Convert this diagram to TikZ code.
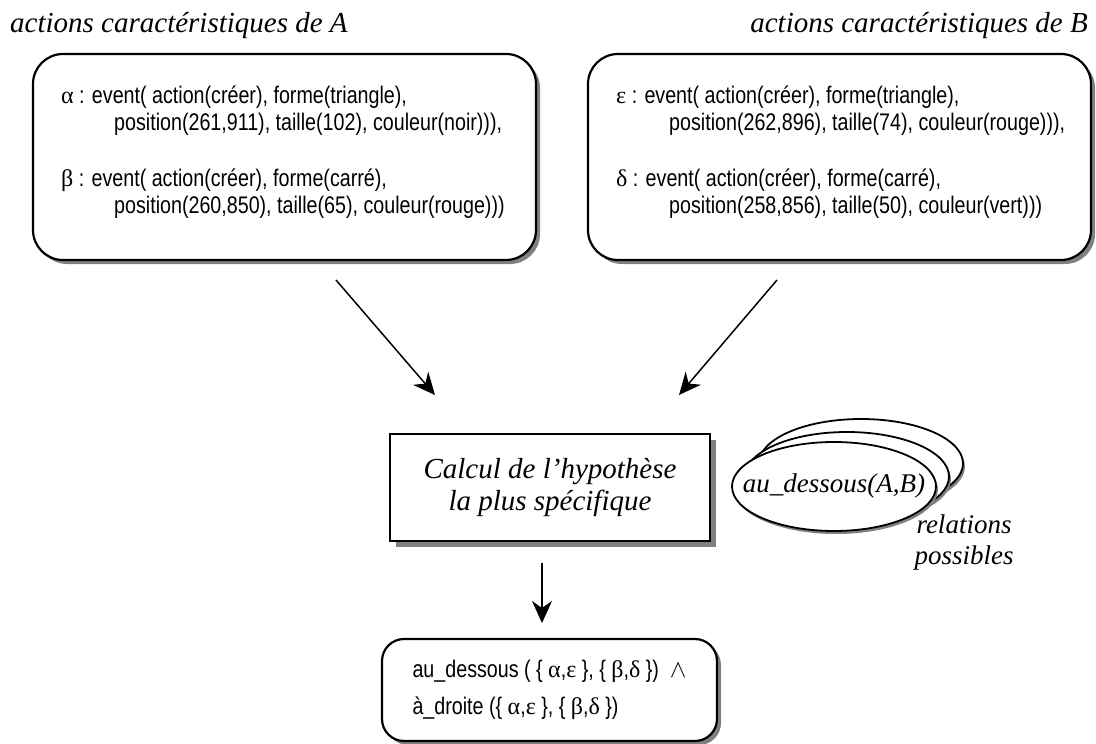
\documentclass[tikz,border=0pt]{standalone}
\usepackage{fontspec}
\setmainfont{Liberation Serif}
\newfontfamily\evfont[FakeStretch=0.82]{Liberation Sans}
\newfontfamily\greekfont{Liberation Serif}
\usetikzlibrary{arrows.meta,shapes.geometric,shadows}
\definecolor{shadowgray}{RGB}{128,128,128}
\newcommand\greekch[1]{{\greekfont #1}}

\begin{document}
\begin{tikzpicture}[x=1pt,y=-1pt,
  title/.style={inner sep=0pt, font=\fontsize{29pt}{32pt}\selectfont\itshape},
  evbox/.style={draw, line width=2.2pt, rounded corners=30pt, fill=white,
    minimum width=503pt, minimum height=206pt,
    general shadow={fill=shadowgray, shadow xshift=4pt, shadow yshift=-4pt}},
  evtext/.style={anchor=base west, inner sep=0pt, align=left,
    font=\evfont\fontsize{24pt}{26.5pt}\selectfont},
  calcbox/.style={draw, line width=2.2pt, fill=white, align=center,
    minimum width=320pt, minimum height=107pt,
    font=\fontsize{29pt}{32pt}\selectfont\itshape,
    general shadow={fill=shadowgray, shadow xshift=6pt, shadow yshift=-6pt}},
  relell/.style={ellipse, draw, line width=1.8pt, fill=white, inner sep=0pt,
    minimum width=204pt, minimum height=89pt,
    general shadow={fill=shadowgray, shadow xshift=2pt, shadow yshift=-3pt}},
  relname/.style={inner sep=0pt, font=\fontsize{27pt}{30pt}\selectfont\itshape},
  reltext/.style={align=center, inner sep=0pt,
    font=\fontsize{27pt}{31pt}\selectfont\itshape},
  resbox/.style={draw, line width=2.2pt, rounded corners=22pt, fill=white,
    minimum width=335pt, minimum height=102pt, align=left,
    font=\evfont\fontsize{24pt}{37pt}\selectfont,
    general shadow={fill=shadowgray, shadow xshift=4pt, shadow yshift=-4pt}},
  flow/.style={line width=1.5pt, -{Stealth[length=22pt,width=20pt,inset=7pt]}}]

\useasboundingbox (0,0) rectangle (1096,744);

% titres
\node[title, anchor=base west] (titleA) at (10,32) {actions caractéristiques de A};
\node[title, anchor=base east] (titleB) at (1088,32) {actions caractéristiques de B};

% actions de A et de B
\node[evbox] (boxA) at (284.5,157) {};
\node[evbox] (boxB) at (839.5,157) {};
\node[evtext] (evA) at (61,213) {\greekch{α} : event( action(créer), forme(triangle),\\
\hspace*{53pt}position(261,911), taille(102), couleur(noir))),\\[30pt]
\greekch{β} : event( action(créer), forme(carré),\\
\hspace*{53pt}position(260,850), taille(65), couleur(rouge)))};
\node[evtext] (evB) at (616,213) {\greekch{ε} : event( action(créer), forme(triangle),\\
\hspace*{53pt}position(262,896), taille(74), couleur(rouge))),\\[30pt]
\greekch{δ} : event( action(créer), forme(carré),\\
\hspace*{53pt}position(258,856), taille(50), couleur(vert)))};

% calcul
\node[calcbox] (calc) at (550,487.5) {Calcul de l'hypothèse\\la plus spécifique};

% relations possibles
\node[relell] (rel3) at (861,463.5) {};
\node[relell] (rel2) at (847,476.5) {};
\node[relell] (rel1) at (834,486.5) {};
\node[relname] (relab) at (rel1) {au\_dessous(A,B)};
\node[reltext] (relpos) at (964,543) {relations\\possibles};

% resultat
\node[resbox] (res) at (549.5,690) {au\_dessous ( \{ \greekch{α},\greekch{ε} \}, \{ \greekch{β},\greekch{δ} \})\ \ $\wedge$\\
à\_droite (\{ \greekch{α},\greekch{ε} \}, \{ \greekch{β},\greekch{δ} \})};

% fleches
\coordinate (fromA) at (336,280);
\coordinate (toA) at (435,395);
\coordinate (fromB) at (777,280);
\coordinate (toB) at (679,395);
\coordinate (fromC) at (542,563);
\coordinate (toC) at (542,623);
\draw[flow] (fromA) -- (toA);
\draw[flow] (fromB) -- (toB);
\draw[flow] (fromC) -- (toC);
\end{tikzpicture}
\end{document}
